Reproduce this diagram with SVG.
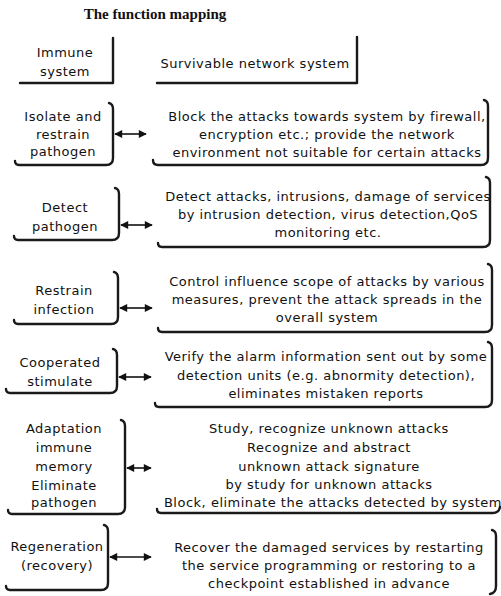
<svg xmlns="http://www.w3.org/2000/svg" width="501" height="596" viewBox="0 0 501 596">
<style>
  .t { font-family: "DejaVu Sans", "Liberation Sans", sans-serif; font-size: 13px; letter-spacing: 0.5px; fill: #111; text-anchor: middle; }
  .title { font-family: "Liberation Serif", serif; font-size: 15px; font-weight: bold; fill: #111; text-anchor: middle; }
  .b { fill: none; stroke: #1a1a1a; stroke-width: 2.4; stroke-linecap: round; stroke-linejoin: round; }
  .c { fill: none; stroke: #111; stroke-width: 1.6; marker-start: url(#ah); marker-end: url(#ah); }
</style>
<defs>
  <marker id="ah" viewBox="0 0 10 10" refX="9" refY="5" markerWidth="5.5" markerHeight="5" orient="auto-start-reverse" markerUnits="strokeWidth">
    <path d="M0,0 L10,5 L0,10 z" fill="#111"/>
  </marker>
</defs>
<rect width="501" height="596" fill="#fff"/>
<text class="title" x="155" y="19">The function mapping</text>

<g id="n-immune">
  <path class="b" d="M113,38 L113,83 L20,83"/>
  <text class="t" x="65" y="57">Immune</text>
  <text class="t" x="65" y="76">system</text>
</g>
<g id="n-survivable">
  <path class="b" d="M357,37 L357,83 L157,83"/>
  <text class="t" x="255" y="68">Survivable network system</text>
</g>

<g id="n-isolate">
  <path class="b" d="M109,103 Q113,104 113,109 L113,158 Q113,165 106,165 L19,165 Q15,165 15,161"/>
  <text class="t" x="63" y="121">Isolate and</text>
  <text class="t" x="63" y="139">restrain</text>
  <text class="t" x="63" y="156">pathogen</text>
</g>
<g id="n-block">
  <path class="b" d="M484,100 Q488,101 488,106 L488,158 Q488,165 481,165 L158,165 Q153,165 153,160"/>
  <text class="t" x="327" y="121">Block the attacks towards system by firewall,</text>
  <text class="t" x="327" y="139">encryption etc.; provide the network</text>
  <text class="t" x="327" y="157">environment not suitable for certain attacks</text>
</g>

<g id="n-detect">
  <path class="b" d="M115,188 Q119,189 119,194 L119,233 Q119,240 112,240 L18,240 Q14,240 14,236"/>
  <text class="t" x="65" y="212">Detect</text>
  <text class="t" x="65" y="231">pathogen</text>
</g>
<g id="n-detect-r">
  <path class="b" d="M486,177 Q490,178 490,183 L490,240 Q490,247 483,247 L162,247 Q158,247 158,243"/>
  <text class="t" x="328" y="201">Detect attacks, intrusions, damage of services</text>
  <text class="t" x="328" y="219">by intrusion detection, virus detection,QoS</text>
  <text class="t" x="328" y="237">monitoring etc.</text>
</g>

<g id="n-restrain">
  <path class="b" d="M114,272 Q118,273 118,278 L118,317 Q118,324 111,324 L18,324 Q14,324 14,320"/>
  <text class="t" x="64" y="295">Restrain</text>
  <text class="t" x="64" y="314">infection</text>
</g>
<g id="n-control">
  <path class="b" d="M488,264 Q492,265 492,270 L492,325 Q492,332 485,332 L162,332 Q158,332 158,328"/>
  <text class="t" x="327" y="286">Control influence scope of attacks by various</text>
  <text class="t" x="327" y="304">measures, prevent the attack spreads in the</text>
  <text class="t" x="327" y="322">overall system</text>
</g>

<g id="n-cooperated">
  <path class="b" d="M113,349 Q117,350 117,355 L117,386 Q117,393 110,393 L10,393 Q6,393 6,389"/>
  <text class="t" x="60" y="367">Cooperated</text>
  <text class="t" x="60" y="386">stimulate</text>
</g>
<g id="n-verify">
  <path class="b" d="M488,342 Q492,343 492,348 L492,400 Q492,407 485,407 L159,407 Q155,407 155,403"/>
  <text class="t" x="326" y="361">Verify the alarm information sent out by some</text>
  <text class="t" x="326" y="380">detection units (e.g. abnormity detection),</text>
  <text class="t" x="326" y="398">eliminates mistaken reports</text>
</g>

<g id="n-adaptation">
  <path class="b" d="M121,420 Q125,421 125,426 L125,507 Q125,514 118,514 L12,514 Q8,514 8,510"/>
  <text class="t" x="64" y="433">Adaptation</text>
  <text class="t" x="64" y="452">immune</text>
  <text class="t" x="64" y="471">memory</text>
  <text class="t" x="64" y="490">Eliminate</text>
  <text class="t" x="64" y="507">pathogen</text>
</g>
<g id="n-study">
  <path class="b" d="M161,513 Q157,513 157,509 M161,513 L493,513 Q499,513 500,507"/>
  <text class="t" x="329" y="433">Study, recognize unknown attacks</text>
  <text class="t" x="329" y="452">Recognize and abstract</text>
  <text class="t" x="329" y="471">unknown attack signature</text>
  <text class="t" x="329" y="489">by study for unknown attacks</text>
  <text class="t" x="333" y="507">Block, eliminate the attacks detected by system</text>
</g>

<g id="n-regeneration">
  <path class="b" d="M104,525 Q108,526 108,531 L108,583 Q108,590 101,590 L10,590 Q6,590 6,586"/>
  <text class="t" x="57" y="551">Regeneration</text>
  <text class="t" x="57" y="570">(recovery)</text>
</g>
<g id="n-recover">
  <path class="b" d="M492,530 Q496,531 496,536 L496,586 Q496,593 490,594"/>
  <text class="t" x="329" y="552">Recover the damaged services by restarting</text>
  <text class="t" x="329" y="570">the service programming or restoring to a</text>
  <text class="t" x="329" y="588">checkpoint established in advance</text>
</g>

<g id="connectors">
  <line class="c" x1="115" y1="134" x2="146" y2="134"/>
  <line class="c" x1="121" y1="225" x2="152" y2="225"/>
  <line class="c" x1="120" y1="308" x2="152" y2="308"/>
  <line class="c" x1="119" y1="377" x2="151" y2="377"/>
  <line class="c" x1="127" y1="468" x2="151" y2="468"/>
  <line class="c" x1="110" y1="557" x2="151" y2="557"/>
</g>
</svg>
